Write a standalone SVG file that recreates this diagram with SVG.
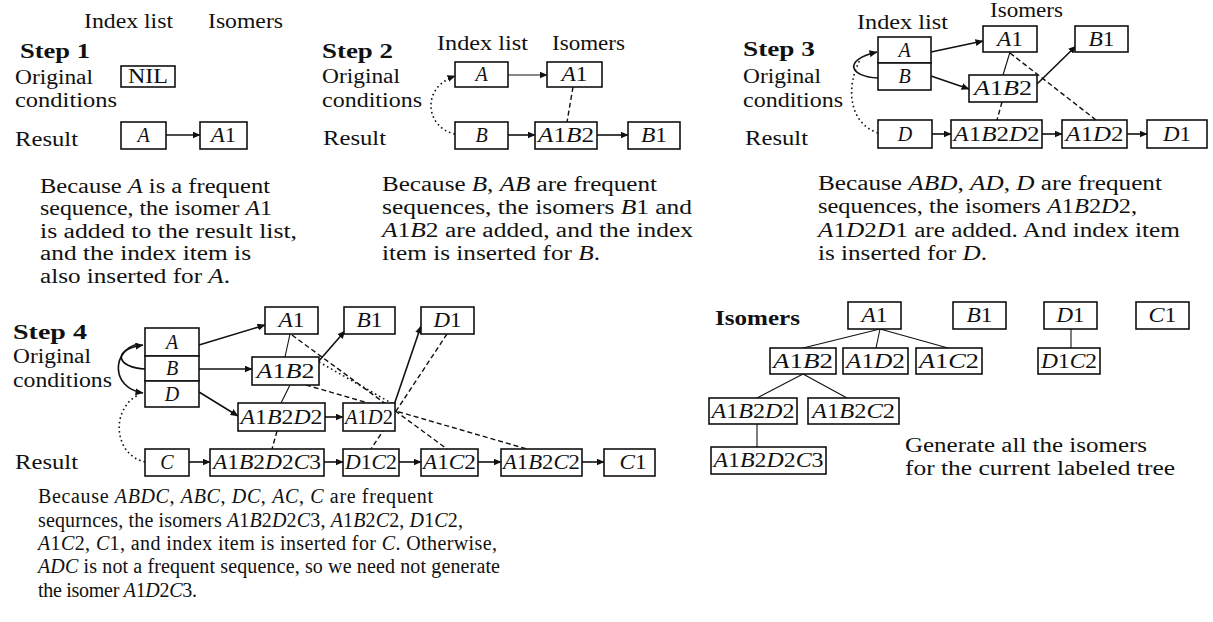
<svg xmlns="http://www.w3.org/2000/svg" width="1213" height="622" viewBox="0 0 1213 622">
<defs>
<style>
.t{font-family:"Liberation Serif","Times New Roman",serif;font-size:20px;fill:#111}
.b{font-weight:bold}
.i{font-style:italic}
.box{fill:#fff;stroke:#111;stroke-width:1.6}
.ln{stroke:#111;stroke-width:1.6;fill:none}
.th{stroke:#111;stroke-width:1.1;fill:none}
.da{stroke:#111;stroke-width:1.4;fill:none;stroke-dasharray:5 3}
.dt{stroke:#111;stroke-width:1.6;fill:none;stroke-dasharray:1.6 3}
.ar{marker-end:url(#ah)}
</style>
<marker id="ah" markerWidth="8" markerHeight="7" refX="7.5" refY="3.5" orient="auto" markerUnits="userSpaceOnUse"><path d="M0,0 L8,3.5 L0,7 Z" fill="#111"/></marker>
</defs>
<rect width="1213" height="622" fill="#fff"/>

<g id="labels">
<text class="t" x="84" y="28" textLength="89" lengthAdjust="spacingAndGlyphs">Index list</text>
<text class="t" x="208" y="28" textLength="75" lengthAdjust="spacingAndGlyphs">Isomers</text>
<text class="t b" x="20" y="58" textLength="70" lengthAdjust="spacingAndGlyphs">Step 1</text>
<text class="t" x="15" y="84" textLength="78" lengthAdjust="spacingAndGlyphs">Original</text>
<text class="t" x="15" y="107" textLength="102" lengthAdjust="spacingAndGlyphs">conditions</text>
<text class="t" x="15" y="146" textLength="63" lengthAdjust="spacingAndGlyphs">Result</text>

<text class="t b" x="322" y="58" textLength="71" lengthAdjust="spacingAndGlyphs">Step 2</text>
<text class="t" x="437" y="50" textLength="91" lengthAdjust="spacingAndGlyphs">Index list</text>
<text class="t" x="552" y="50" textLength="73" lengthAdjust="spacingAndGlyphs">Isomers</text>
<text class="t" x="322" y="83" textLength="78" lengthAdjust="spacingAndGlyphs">Original</text>
<text class="t" x="322" y="107" textLength="100" lengthAdjust="spacingAndGlyphs">conditions</text>
<text class="t" x="323" y="145" textLength="63" lengthAdjust="spacingAndGlyphs">Result</text>

<text class="t" x="990" y="17" textLength="73" lengthAdjust="spacingAndGlyphs">Isomers</text>
<text class="t" x="857" y="29" textLength="91" lengthAdjust="spacingAndGlyphs">Index list</text>
<text class="t b" x="743" y="56" textLength="72" lengthAdjust="spacingAndGlyphs">Step 3</text>
<text class="t" x="743" y="83" textLength="78" lengthAdjust="spacingAndGlyphs">Original</text>
<text class="t" x="743" y="107" textLength="100" lengthAdjust="spacingAndGlyphs">conditions</text>
<text class="t" x="745" y="145" textLength="63" lengthAdjust="spacingAndGlyphs">Result</text>

<text class="t b" x="13" y="339" textLength="74" lengthAdjust="spacingAndGlyphs">Step 4</text>
<text class="t" x="13" y="363" textLength="78" lengthAdjust="spacingAndGlyphs">Original</text>
<text class="t" x="13" y="387" textLength="99" lengthAdjust="spacingAndGlyphs">conditions</text>
<text class="t" x="15" y="469" textLength="63" lengthAdjust="spacingAndGlyphs">Result</text>

<text class="t b" x="715" y="325" textLength="85" lengthAdjust="spacingAndGlyphs">Isomers</text>
</g>

<g id="paragraphs">
<text class="t" x="40" y="193" textLength="230" lengthAdjust="spacingAndGlyphs">Because <tspan class="i">A</tspan> is a frequent</text>
<text class="t" x="40" y="215" textLength="232" lengthAdjust="spacingAndGlyphs">sequence, the isomer <tspan class="i">A</tspan>1</text>
<text class="t" x="40" y="238" textLength="257" lengthAdjust="spacingAndGlyphs">is added to the result list,</text>
<text class="t" x="40" y="260" textLength="211" lengthAdjust="spacingAndGlyphs">and the index item is</text>
<text class="t" x="40" y="283" textLength="190" lengthAdjust="spacingAndGlyphs">also inserted for <tspan class="i">A</tspan>.</text>

<text class="t" x="382" y="191" textLength="275" lengthAdjust="spacingAndGlyphs">Because <tspan class="i">B</tspan>, <tspan class="i">AB</tspan> are frequent</text>
<text class="t" x="382" y="214" textLength="310" lengthAdjust="spacingAndGlyphs">sequences, the isomers <tspan class="i">B</tspan>1 and</text>
<text class="t" x="382" y="237" textLength="311" lengthAdjust="spacingAndGlyphs"><tspan class="i">A</tspan>1<tspan class="i">B</tspan>2 are added, and the index</text>
<text class="t" x="382" y="260" textLength="218" lengthAdjust="spacingAndGlyphs">item is inserted for <tspan class="i">B</tspan>.</text>

<text class="t" x="818" y="190" textLength="344" lengthAdjust="spacingAndGlyphs">Because <tspan class="i">ABD</tspan>, <tspan class="i">AD</tspan>, <tspan class="i">D</tspan> are frequent</text>
<text class="t" x="818" y="213" textLength="319" lengthAdjust="spacingAndGlyphs">sequences, the isomers <tspan class="i">A</tspan>1<tspan class="i">B</tspan>2<tspan class="i">D</tspan>2,</text>
<text class="t" x="818" y="237" textLength="362" lengthAdjust="spacingAndGlyphs"><tspan class="i">A</tspan>1<tspan class="i">D</tspan>2<tspan class="i">D</tspan>1 are added. And index item</text>
<text class="t" x="818" y="260" textLength="169" lengthAdjust="spacingAndGlyphs">is inserted for <tspan class="i">D</tspan>.</text>

<text class="t" x="38" y="503" textLength="395">Because <tspan class="i">ABDC</tspan>, <tspan class="i">ABC</tspan>, <tspan class="i">DC</tspan>, <tspan class="i">AC</tspan>, <tspan class="i">C</tspan> are frequent</text>
<text class="t" x="38" y="527" textLength="425">sequrnces, the isomers <tspan class="i">A</tspan>1<tspan class="i">B</tspan>2<tspan class="i">D</tspan>2<tspan class="i">C</tspan>3, <tspan class="i">A</tspan>1<tspan class="i">B</tspan>2<tspan class="i">C</tspan>2, <tspan class="i">D</tspan>1<tspan class="i">C</tspan>2,</text>
<text class="t" x="38" y="550" textLength="459"><tspan class="i">A</tspan>1<tspan class="i">C</tspan>2, <tspan class="i">C</tspan>1, and index item is inserted for <tspan class="i">C</tspan>. Otherwise,</text>
<text class="t" x="38" y="573" textLength="462"><tspan class="i">ADC</tspan> is not a frequent sequence, so we need not generate</text>
<text class="t" x="38" y="597" textLength="159">the isomer <tspan class="i">A</tspan>1<tspan class="i">D</tspan>2<tspan class="i">C</tspan>3.</text>

<text class="t" x="905" y="452" textLength="242" lengthAdjust="spacingAndGlyphs">Generate all the isomers</text>
<text class="t" x="905" y="475" textLength="270" lengthAdjust="spacingAndGlyphs">for the current labeled tree</text>
</g>

<g id="connectors">
<line class="ln ar" x1="166" y1="135" x2="200" y2="135"/>
<line class="th ar" x1="508" y1="75" x2="547" y2="75"/>
<line class="ln ar" x1="508" y1="135" x2="535" y2="135"/>
<line class="ln ar" x1="597" y1="135" x2="628" y2="135"/>
<line class="da" x1="573" y1="87" x2="567" y2="122"/>
<path class="dt ar" d="M455,134 C426,128 420,88 455,76"/>
<line class="ln ar" x1="931" y1="52" x2="983" y2="41"/>
<line class="ln ar" x1="931" y1="76" x2="969" y2="89"/>
<line class="ln ar" x1="1037" y1="84" x2="1076" y2="46"/>
<line class="th" x1="1010" y1="52" x2="1003" y2="75"/>
<line class="da" x1="1010" y1="53" x2="1096" y2="120"/>
<line class="da" x1="1002" y1="102" x2="997" y2="120"/>
<line class="ln ar" x1="932" y1="134" x2="951" y2="134"/>
<line class="ln ar" x1="1042" y1="134" x2="1062" y2="134"/>
<line class="ln ar" x1="1127" y1="134" x2="1147" y2="134"/>
<path class="ln ar" d="M878,78 C850,77 842,60 877,52"/>
<path class="dt" d="M878,133 C848,123 846,86 860,60"/>
<line class="ln ar" x1="199" y1="345" x2="265" y2="325"/>
<line class="ln ar" x1="199" y1="369" x2="252" y2="369"/>
<line class="ln ar" x1="199" y1="392" x2="238" y2="416"/>
<line class="ln ar" x1="318" y1="362" x2="345" y2="331"/>
<line class="ln ar" x1="394" y1="405" x2="421" y2="326"/>
<line class="ln ar" x1="325" y1="417" x2="343" y2="417"/>
<line class="th" x1="290" y1="334" x2="285" y2="357"/>
<line class="th" x1="290" y1="385" x2="281" y2="403"/>
<line class="da" x1="277" y1="431" x2="272" y2="449"/>
<line class="da" x1="447" y1="334" x2="371" y2="449"/>
<line class="da" x1="292" y1="335" x2="447" y2="449"/>
<line class="da" x1="306" y1="385" x2="527" y2="449"/>
<line class="dt" x1="319" y1="362" x2="393" y2="404"/>
<line class="ln ar" x1="189" y1="462" x2="210" y2="462"/>
<line class="ln ar" x1="324" y1="462" x2="343" y2="462"/>
<line class="ln ar" x1="399" y1="462" x2="421" y2="462"/>
<line class="ln ar" x1="478" y1="462" x2="501" y2="462"/>
<line class="ln ar" x1="582" y1="462" x2="604" y2="462"/>
<path class="ln ar" d="M145,369 C118,368 110,350 143,345"/>
<path class="ln ar" d="M138,344 C112,350 110,388 143,393"/>
<path class="dt" d="M145,462 C114,455 110,410 138,395"/>
<line class="th" x1="880" y1="329" x2="803" y2="348"/>
<line class="th" x1="880" y1="329" x2="876" y2="348"/>
<line class="th" x1="880" y1="329" x2="948" y2="348"/>
<line class="th" x1="803" y1="374" x2="757" y2="398"/>
<line class="th" x1="803" y1="374" x2="847" y2="398"/>
<line class="th" x1="757" y1="424" x2="757" y2="447"/>
<line class="th" x1="1071" y1="329" x2="1071" y2="348"/>
</g>

<g id="s1-nil"><rect class="box" x="121" y="66" width="54" height="21"/><text class="t" x="148" y="83" text-anchor="middle" textLength="40" lengthAdjust="spacingAndGlyphs">NIL</text></g>
<g id="s1-a"><rect class="box" x="121" y="122" width="45" height="27"/><text class="t i" x="143.5" y="142" text-anchor="middle">A</text></g>
<g id="s1-a1"><rect class="box" x="200" y="122" width="47" height="27"/><text class="t" x="223.5" y="142" text-anchor="middle" textLength="25" lengthAdjust="spacingAndGlyphs"><tspan class="i">A</tspan>1</text></g>

<g id="s2-a"><rect class="box" x="455" y="62" width="53" height="25"/><text class="t i" x="481.5" y="81" text-anchor="middle">A</text></g>
<g id="s2-a1"><rect class="box" x="547" y="62" width="55" height="25"/><text class="t" x="574.5" y="81" text-anchor="middle" textLength="26" lengthAdjust="spacingAndGlyphs"><tspan class="i">A</tspan>1</text></g>
<g id="s2-b"><rect class="box" x="455" y="122" width="53" height="27"/><text class="t i" x="481.5" y="142" text-anchor="middle">B</text></g>
<g id="s2-a1b2"><rect class="box" x="535" y="122" width="62" height="27"/><text class="t" x="566" y="142" text-anchor="middle" textLength="56" lengthAdjust="spacingAndGlyphs"><tspan class="i">A</tspan>1<tspan class="i">B</tspan>2</text></g>
<g id="s2-b1"><rect class="box" x="628" y="122" width="52" height="27"/><text class="t" x="654" y="142" text-anchor="middle" textLength="26" lengthAdjust="spacingAndGlyphs"><tspan class="i">B</tspan>1</text></g>

<g id="s3-a"><rect class="box" x="878" y="37" width="53" height="26"/><text class="t i" x="904.5" y="57" text-anchor="middle">A</text></g>
<g id="s3-b"><rect class="box" x="878" y="63" width="53" height="27"/><text class="t i" x="904.5" y="83" text-anchor="middle">B</text></g>
<g id="s3-a1"><rect class="box" x="983" y="26" width="54" height="26"/><text class="t" x="1010" y="46" text-anchor="middle" textLength="26" lengthAdjust="spacingAndGlyphs"><tspan class="i">A</tspan>1</text></g>
<g id="s3-b1"><rect class="box" x="1075" y="26" width="53" height="26"/><text class="t" x="1101.5" y="46" text-anchor="middle" textLength="26" lengthAdjust="spacingAndGlyphs"><tspan class="i">B</tspan>1</text></g>
<g id="s3-a1b2"><rect class="box" x="969" y="75" width="68" height="27"/><text class="t" x="1003" y="95" text-anchor="middle" textLength="58" lengthAdjust="spacingAndGlyphs"><tspan class="i">A</tspan>1<tspan class="i">B</tspan>2</text></g>
<g id="s3-d"><rect class="box" x="878" y="120" width="54" height="28"/><text class="t i" x="905" y="141" text-anchor="middle">D</text></g>
<g id="s3-a1b2d2"><rect class="box" x="951" y="120" width="91" height="28"/><text class="t" x="996.5" y="141" text-anchor="middle" textLength="86" lengthAdjust="spacingAndGlyphs"><tspan class="i">A</tspan>1<tspan class="i">B</tspan>2<tspan class="i">D</tspan>2</text></g>
<g id="s3-a1d2"><rect class="box" x="1062" y="120" width="65" height="28"/><text class="t" x="1094.5" y="141" text-anchor="middle" textLength="58" lengthAdjust="spacingAndGlyphs"><tspan class="i">A</tspan>1<tspan class="i">D</tspan>2</text></g>
<g id="s3-d1"><rect class="box" x="1147" y="120" width="60" height="28"/><text class="t" x="1177" y="141" text-anchor="middle" textLength="28" lengthAdjust="spacingAndGlyphs"><tspan class="i">D</tspan>1</text></g>

<g id="s4-a"><rect class="box" x="145" y="328" width="54" height="28"/><text class="t i" x="172" y="349" text-anchor="middle">A</text></g>
<g id="s4-b"><rect class="box" x="145" y="356" width="54" height="25"/><text class="t i" x="172" y="375" text-anchor="middle">B</text></g>
<g id="s4-d"><rect class="box" x="145" y="381" width="54" height="26"/><text class="t i" x="172" y="401" text-anchor="middle">D</text></g>
<g id="s4-a1"><rect class="box" x="265" y="307" width="53" height="27"/><text class="t" x="291.5" y="327" text-anchor="middle" textLength="26" lengthAdjust="spacingAndGlyphs"><tspan class="i">A</tspan>1</text></g>
<g id="s4-b1"><rect class="box" x="344" y="307" width="51" height="27"/><text class="t" x="369.5" y="327" text-anchor="middle" textLength="26" lengthAdjust="spacingAndGlyphs"><tspan class="i">B</tspan>1</text></g>
<g id="s4-d1"><rect class="box" x="421" y="307" width="53" height="27"/><text class="t" x="447.5" y="327" text-anchor="middle" textLength="28" lengthAdjust="spacingAndGlyphs"><tspan class="i">D</tspan>1</text></g>
<g id="s4-a1b2"><rect class="box" x="252" y="357" width="67" height="28"/><text class="t" x="285.5" y="378" text-anchor="middle" textLength="58" lengthAdjust="spacingAndGlyphs"><tspan class="i">A</tspan>1<tspan class="i">B</tspan>2</text></g>
<g id="s4-a1b2d2"><rect class="box" x="238" y="403" width="87" height="28"/><text class="t" x="281.5" y="424" text-anchor="middle" textLength="82" lengthAdjust="spacingAndGlyphs"><tspan class="i">A</tspan>1<tspan class="i">B</tspan>2<tspan class="i">D</tspan>2</text></g>
<g id="s4-a1d2"><rect class="box" x="343" y="403" width="52" height="28"/><text class="t" x="369" y="424" text-anchor="middle" textLength="48" lengthAdjust="spacingAndGlyphs"><tspan class="i">A</tspan>1<tspan class="i">D</tspan>2</text></g>
<g id="s4-c"><rect class="box" x="145" y="449" width="44" height="27"/><text class="t i" x="167" y="469" text-anchor="middle">C</text></g>
<g id="s4-a1b2d2c3"><rect class="box" x="210" y="449" width="114" height="27"/><text class="t" x="267" y="469" text-anchor="middle" textLength="108" lengthAdjust="spacingAndGlyphs"><tspan class="i">A</tspan>1<tspan class="i">B</tspan>2<tspan class="i">D</tspan>2<tspan class="i">C</tspan>3</text></g>
<g id="s4-d1c2"><rect class="box" x="343" y="449" width="56" height="27"/><text class="t" x="371" y="469" text-anchor="middle" textLength="52" lengthAdjust="spacingAndGlyphs"><tspan class="i">D</tspan>1<tspan class="i">C</tspan>2</text></g>
<g id="s4-a1c2"><rect class="box" x="421" y="449" width="57" height="27"/><text class="t" x="449.5" y="469" text-anchor="middle" textLength="53" lengthAdjust="spacingAndGlyphs"><tspan class="i">A</tspan>1<tspan class="i">C</tspan>2</text></g>
<g id="s4-a1b2c2"><rect class="box" x="501" y="449" width="81" height="27"/><text class="t" x="541.5" y="469" text-anchor="middle" textLength="77" lengthAdjust="spacingAndGlyphs"><tspan class="i">A</tspan>1<tspan class="i">B</tspan>2<tspan class="i">C</tspan>2</text></g>
<g id="s4-c1"><rect class="box" x="604" y="449" width="51" height="27"/><text class="t" x="633" y="469" text-anchor="middle" textLength="27" lengthAdjust="spacingAndGlyphs"><tspan class="i">C</tspan>1</text></g>

<g id="t-a1"><rect class="box" x="848" y="302" width="53" height="27"/><text class="t" x="874.5" y="322" text-anchor="middle" textLength="26" lengthAdjust="spacingAndGlyphs"><tspan class="i">A</tspan>1</text></g>
<g id="t-b1"><rect class="box" x="953" y="302" width="53" height="27"/><text class="t" x="979.5" y="322" text-anchor="middle" textLength="26" lengthAdjust="spacingAndGlyphs"><tspan class="i">B</tspan>1</text></g>
<g id="t-d1"><rect class="box" x="1044" y="302" width="53" height="27"/><text class="t" x="1070.5" y="322" text-anchor="middle" textLength="28" lengthAdjust="spacingAndGlyphs"><tspan class="i">D</tspan>1</text></g>
<g id="t-c1"><rect class="box" x="1136" y="302" width="53" height="27"/><text class="t" x="1162.5" y="322" text-anchor="middle" textLength="28" lengthAdjust="spacingAndGlyphs"><tspan class="i">C</tspan>1</text></g>
<g id="t-a1b2"><rect class="box" x="770" y="348" width="66" height="26"/><text class="t" x="803" y="368" text-anchor="middle" textLength="60" lengthAdjust="spacingAndGlyphs"><tspan class="i">A</tspan>1<tspan class="i">B</tspan>2</text></g>
<g id="t-a1d2"><rect class="box" x="843" y="348" width="65" height="26"/><text class="t" x="875.5" y="368" text-anchor="middle" textLength="59" lengthAdjust="spacingAndGlyphs"><tspan class="i">A</tspan>1<tspan class="i">D</tspan>2</text></g>
<g id="t-a1c2"><rect class="box" x="916" y="348" width="66" height="26"/><text class="t" x="949" y="368" text-anchor="middle" textLength="60" lengthAdjust="spacingAndGlyphs"><tspan class="i">A</tspan>1<tspan class="i">C</tspan>2</text></g>
<g id="t-d1c2"><rect class="box" x="1038" y="348" width="62" height="26"/><text class="t" x="1069" y="368" text-anchor="middle" textLength="56" lengthAdjust="spacingAndGlyphs"><tspan class="i">D</tspan>1<tspan class="i">C</tspan>2</text></g>
<g id="t-a1b2d2"><rect class="box" x="709" y="398" width="88" height="26"/><text class="t" x="753" y="418" text-anchor="middle" textLength="83" lengthAdjust="spacingAndGlyphs"><tspan class="i">A</tspan>1<tspan class="i">B</tspan>2<tspan class="i">D</tspan>2</text></g>
<g id="t-a1b2c2"><rect class="box" x="808" y="398" width="91" height="26"/><text class="t" x="853.5" y="418" text-anchor="middle" textLength="83" lengthAdjust="spacingAndGlyphs"><tspan class="i">A</tspan>1<tspan class="i">B</tspan>2<tspan class="i">C</tspan>2</text></g>
<g id="t-a1b2d2c3"><rect class="box" x="711" y="447" width="115" height="27"/><text class="t" x="768.5" y="467" text-anchor="middle" textLength="110" lengthAdjust="spacingAndGlyphs"><tspan class="i">A</tspan>1<tspan class="i">B</tspan>2<tspan class="i">D</tspan>2<tspan class="i">C</tspan>3</text></g>
</svg>
